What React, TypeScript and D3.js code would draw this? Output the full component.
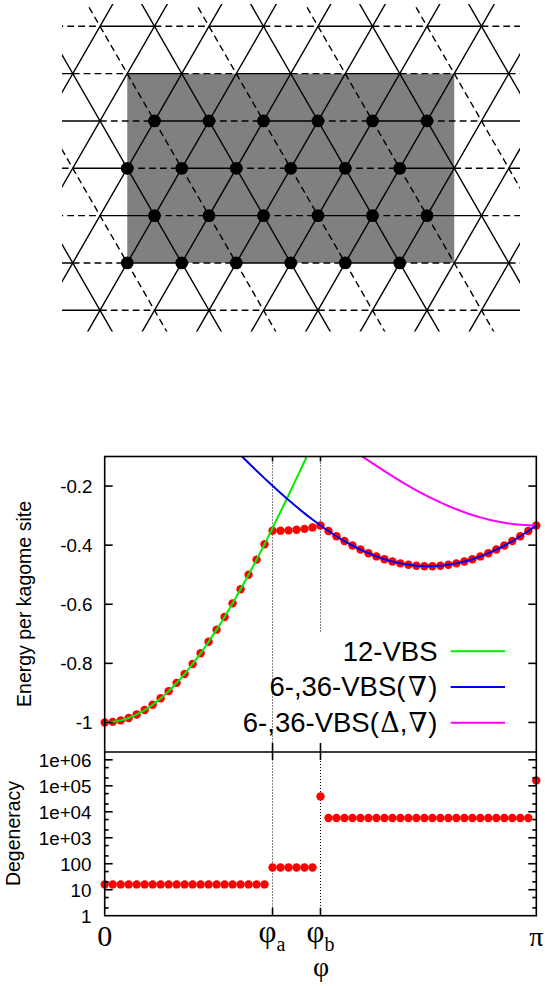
import React from "react";
import * as d3 from "d3";

// ---------- Plot data (step index i: phi = i * pi / 54) ----------
const energy12VBS = [
  -1.0, -0.998, -0.993, -0.985, -0.973, -0.958, -0.94, -0.918, -0.894, -0.866, -0.836, -0.802, -0.766, -0.727,
  -0.686, -0.643, -0.597, -0.549, -0.5, -0.449, -0.397, -0.342, -0.287, -0.231, -0.174, -0.116, -0.058,
];
const energy6VBSStart = 17;
const energy6VBS = [
  -0.0953, -0.122, -0.1483, -0.174, -0.1992, -0.2237, -0.2475, -0.2704, -0.2924, -0.3134, -0.3333, -0.3521, -0.3698,
  -0.3861, -0.4012, -0.4149, -0.4272, -0.4381, -0.4475, -0.4553, -0.4617, -0.4664, -0.4696, -0.4712, -0.4712, -0.4696,
  -0.4664, -0.4617, -0.4553, -0.4475, -0.4381, -0.4272, -0.4149, -0.4012, -0.3861, -0.3698, -0.3521, -0.3333,
];
const energy6DeltaStart = 31;
const energy6Delta = [
  -0.0769, -0.0956, -0.114, -0.132, -0.1496, -0.1667, -0.1832, -0.1991, -0.2143, -0.2287, -0.2425, -0.2553, -0.2674,
  -0.2785, -0.2887, -0.2979, -0.3061, -0.3132, -0.3193, -0.3243, -0.3283, -0.3311, -0.3328, -0.3333,
];
const energyPlateau = [-0.351, -0.351, -0.35, -0.348, -0.345, -0.34];
const energyPoints = [...energy12VBS.slice(0, 21), ...energyPlateau, ...energy6VBS.slice(10)];

const degeneracyPoints = [
  16, 16, 16, 16, 16, 16, 16, 16, 16, 16, 16, 16, 16, 16, 16, 16, 16, 16, 16, 16, 16, 72, 72, 72, 72, 72, 72, 39000,
  5760, 5760, 5760, 5760, 5760, 5760, 5760, 5760, 5760, 5760, 5760, 5760, 5760, 5760, 5760, 5760, 5760, 5760, 5760,
  5760, 5760, 5760, 5760, 5760, 5760, 5760, 160000,
];

const energyTicks = [-0.2, -0.4, -0.6, -0.8, -1];
const energyTickLabels = ["-0.2", "-0.4", "-0.6", "-0.8", "-1"];
const degTicks = [1, 10, 100, 1e3, 1e4, 1e5, 1e6];
const degTickLabels = ["1", "10", "100", "1e+03", "1e+04", "1e+05", "1e+06"];
const degMinorTicks = [2, 5, 20, 50, 200, 500, 2e3, 5e3, 2e4, 5e4, 2e5, 5e5];
const phiSteps = [21, 27];

// ---------- Lattice data ----------
const latticeRows = [0, 1, 2, 3, 4, 5, 6];
const rowSolidOffset = [0, 1, 2, 3, 0, 1, 2];
const latticeCols = d3.range(-6, 20);
const diagCols = d3.range(-16, 28, 2);
const dotRows = [2, 3, 4, 5];
const dotCols = [
  [2, 4, 6, 8, 10, 12],
  [1, 3, 5, 7, 9, 11],
  [2, 4, 6, 8, 10, 12],
  [1, 3, 5, 7, 9, 11],
];

const W = 545;
const H = 986;
const L = 104.7;
const R = 536.3;
const T = 456.5;
const M = 752;
const B = 915.7;

const x = d3.scaleLinear().domain([0, 54]).range([L, R]);
const yE = d3.scaleLinear().domain([-1.1, -0.1]).range([M, T]);
const yD = d3.scaleLog().domain([1, 2e6]).range([B, M]);

const lx = d3.scaleLinear().domain([0, 1]).range([100, 127.25]);
const ly = d3.scaleLinear().domain([0, 1]).range([26.3, 73.63]);

const SANS = "'Liberation Sans', Arimo, Helvetica, sans-serif";
const SERIF = "'Liberation Serif', 'Times New Roman', serif";
const MATH = "'DejaVu Serif', 'Liberation Serif', serif";

const curve = (start: number, values: number[]) =>
  d3
    .line<number>()
    .x((_, i) => x(start + i))
    .y((v) => yE(v))
    .curve(d3.curveCatmullRom)(values) || "";

const DASH = "6.8 4.1";

function Lattice() {
  const segs: { x1: number; y1: number; x2: number; y2: number; dashed: boolean; key: string }[] = [];
  latticeRows.forEach((r, ri) => {
    latticeCols.forEach((c) => {
      if (((c + r) % 2 + 2) % 2 !== 0) return;
      const dashed = ((c % 4) + 4) % 4 !== rowSolidOffset[ri];
      segs.push({ x1: lx(c), y1: ly(r), x2: lx(c + 2), y2: ly(r), dashed, key: `h${r}_${c}` });
    });
  });
  diagCols.forEach((c) => {
    // "/" bonds: all solid
    segs.push({ x1: lx(c + 1), y1: ly(-1), x2: lx(c - 8), y2: ly(8), dashed: false, key: `f${c}` });
    // "\" bonds: alternately dashed and solid
    segs.push({
      x1: lx(c - 1),
      y1: ly(-1),
      x2: lx(c + 8),
      y2: ly(8),
      dashed: ((c % 4) + 4) % 4 === 0,
      key: `b${c}`,
    });
  });
  return (
    <g>
      <defs>
        <clipPath id="latClip">
          <rect x={62} y={4} width={458} height={327.5} />
        </clipPath>
      </defs>
      <rect x={lx(1)} y={ly(1)} width={lx(13) - lx(1)} height={ly(5) - ly(1)} fill="#808080" />
      <g clipPath="url(#latClip)" stroke="#000" strokeWidth={1.4} fill="none">
        {segs.map((s) => (
          <line key={s.key} x1={s.x1} y1={s.y1} x2={s.x2} y2={s.y2} strokeDasharray={s.dashed ? DASH : undefined} />
        ))}
      </g>
      {dotRows.map((r, i) =>
        dotCols[i].map((c) => <circle key={`${r}_${c}`} cx={lx(c)} cy={ly(r)} r={6.4} fill="#000" />)
      )}
    </g>
  );
}

function Plot() {
  return (
    <g>
      <defs>
        <clipPath id="topClip">
          <rect x={L} y={T} width={R - L} height={M - T} />
        </clipPath>
      </defs>

      {/* phi guide lines */}
      <g stroke="#000" strokeWidth={1} strokeDasharray="1 2" fill="none">
        <line x1={x(phiSteps[0])} x2={x(phiSteps[0])} y1={T} y2={B} />
        <line x1={x(phiSteps[1])} x2={x(phiSteps[1])} y1={T} y2={633} />
        <line x1={x(phiSteps[1])} x2={x(phiSteps[1])} y1={M} y2={B} />
      </g>

      {/* points */}
      <g fill="#ff0000">
        {energyPoints.map((v, i) => (
          <circle key={i} cx={x(i)} cy={yE(v)} r={4.2} />
        ))}
        {degeneracyPoints.map((v, i) => (
          <circle key={i} cx={x(i)} cy={yD(v)} r={4.2} />
        ))}
      </g>

      {/* curves */}
      <g clipPath="url(#topClip)" fill="none" strokeWidth={2}>
        <path d={curve(energy6DeltaStart, energy6Delta)} stroke="#ff00ff" />
        <path d={curve(0, energy12VBS)} stroke="#00ee00" />
        <path d={curve(energy6VBSStart, energy6VBS)} stroke="#0000ee" />
      </g>

      {/* frame */}
      <g fill="none" stroke="#000" strokeWidth={1.6}>
        <rect x={L} y={T} width={R - L} height={B - T} />
        <line x1={L} x2={R} y1={M} y2={M} />
        {energyTicks.map((t) => (
          <g key={t}>
            <line x1={L} x2={L + 8} y1={yE(t)} y2={yE(t)} />
            <line x1={R} x2={R - 8} y1={yE(t)} y2={yE(t)} />
          </g>
        ))}
        {degTicks.slice(1).map((t) => (
          <g key={t}>
            <line x1={L} x2={L + 8} y1={yD(t)} y2={yD(t)} />
            <line x1={R} x2={R - 8} y1={yD(t)} y2={yD(t)} />
          </g>
        ))}
        {degMinorTicks.map((t) => (
          <g key={t}>
            <line x1={L} x2={L + 4} y1={yD(t)} y2={yD(t)} />
            <line x1={R} x2={R - 4} y1={yD(t)} y2={yD(t)} />
          </g>
        ))}
        {phiSteps.map((s) => (
          <g key={s}>
            <line x1={x(s)} x2={x(s)} y1={B} y2={B - 8} />
            <line x1={x(s)} x2={x(s)} y1={M - 9} y2={M + 8} />
            <line x1={x(s)} x2={x(s)} y1={T} y2={T + 5} />
          </g>
        ))}
      </g>

      {/* y tick labels */}
      <g fontFamily={SANS} fontSize={18.8} textAnchor="end" fill="#000">
        {energyTicks.map((t, i) => (
          <text key={t} x={92.5} y={yE(t) + 6.8}>
            {energyTickLabels[i]}
          </text>
        ))}
        {degTicks.map((t, i) => (
          <text key={t} x={91.5} y={yD(t) + 6.8}>
            {degTickLabels[i]}
          </text>
        ))}
      </g>

      {/* y titles */}
      <g fontFamily={SANS} fontSize={19.5} textAnchor="middle" fill="#000">
        <text transform="translate(31,604) rotate(-90)">Energy per kagome site</text>
        <text transform="translate(20,833.5) rotate(-90)">Degeneracy</text>
      </g>

      {/* x tick labels */}
      <g fontFamily={SERIF} fill="#000">
        <text x={L} y={945.5} fontSize={30} textAnchor="middle">0</text>
        <text x={x(phiSteps[0]) - 14} y={942} fontSize={31}>
          φ<tspan fontSize={20} dy={9}>a</tspan>
        </text>
        <text x={x(phiSteps[1]) - 14} y={942} fontSize={31}>
          φ<tspan fontSize={20} dy={9}>b</tspan>
        </text>
        <text x={R} y={945.5} fontSize={28} textAnchor="middle">π</text>
        <text x={x(phiSteps[1]) + 0.5} y={976} fontSize={28} textAnchor="middle">φ</text>
      </g>

      {/* legend */}
      <g fontFamily={SANS} fontSize={27.5} textAnchor="end" fill="#000">
        <text x={437.5} y={660.5}>12-VBS</text>
        <text x={437.5} y={696.3}>
          6-,36-VBS(<tspan fontFamily={MATH} fontSize={27} dx={2.5}>∇</tspan><tspan dx={1.5}>)</tspan>
        </text>
        <text x={437.5} y={732}>
          6-,36-VBS(<tspan fontFamily={MATH} fontSize={27} dx={1.5}>Δ</tspan>,<tspan fontFamily={MATH} fontSize={27} dx={1}>∇</tspan><tspan dx={1}>)</tspan>
        </text>
      </g>
      <g strokeWidth={2}>
        <line x1={450.7} x2={505} y1={651.3} y2={651.3} stroke="#00ee00" />
        <line x1={450.7} x2={505} y1={687} y2={687} stroke="#0000ee" />
        <line x1={450.7} x2={505} y1={722.7} y2={722.7} stroke="#ff00ff" />
      </g>
    </g>
  );
}

export default function App() {
  return (
    <svg
      width={W}
      height={H}
      viewBox={`0 0 ${W} ${H}`}
      style={{ position: "absolute", left: 0, top: 0, background: "#fff" }}
    >
      <Lattice />
      <Plot />
    </svg>
  );
}
